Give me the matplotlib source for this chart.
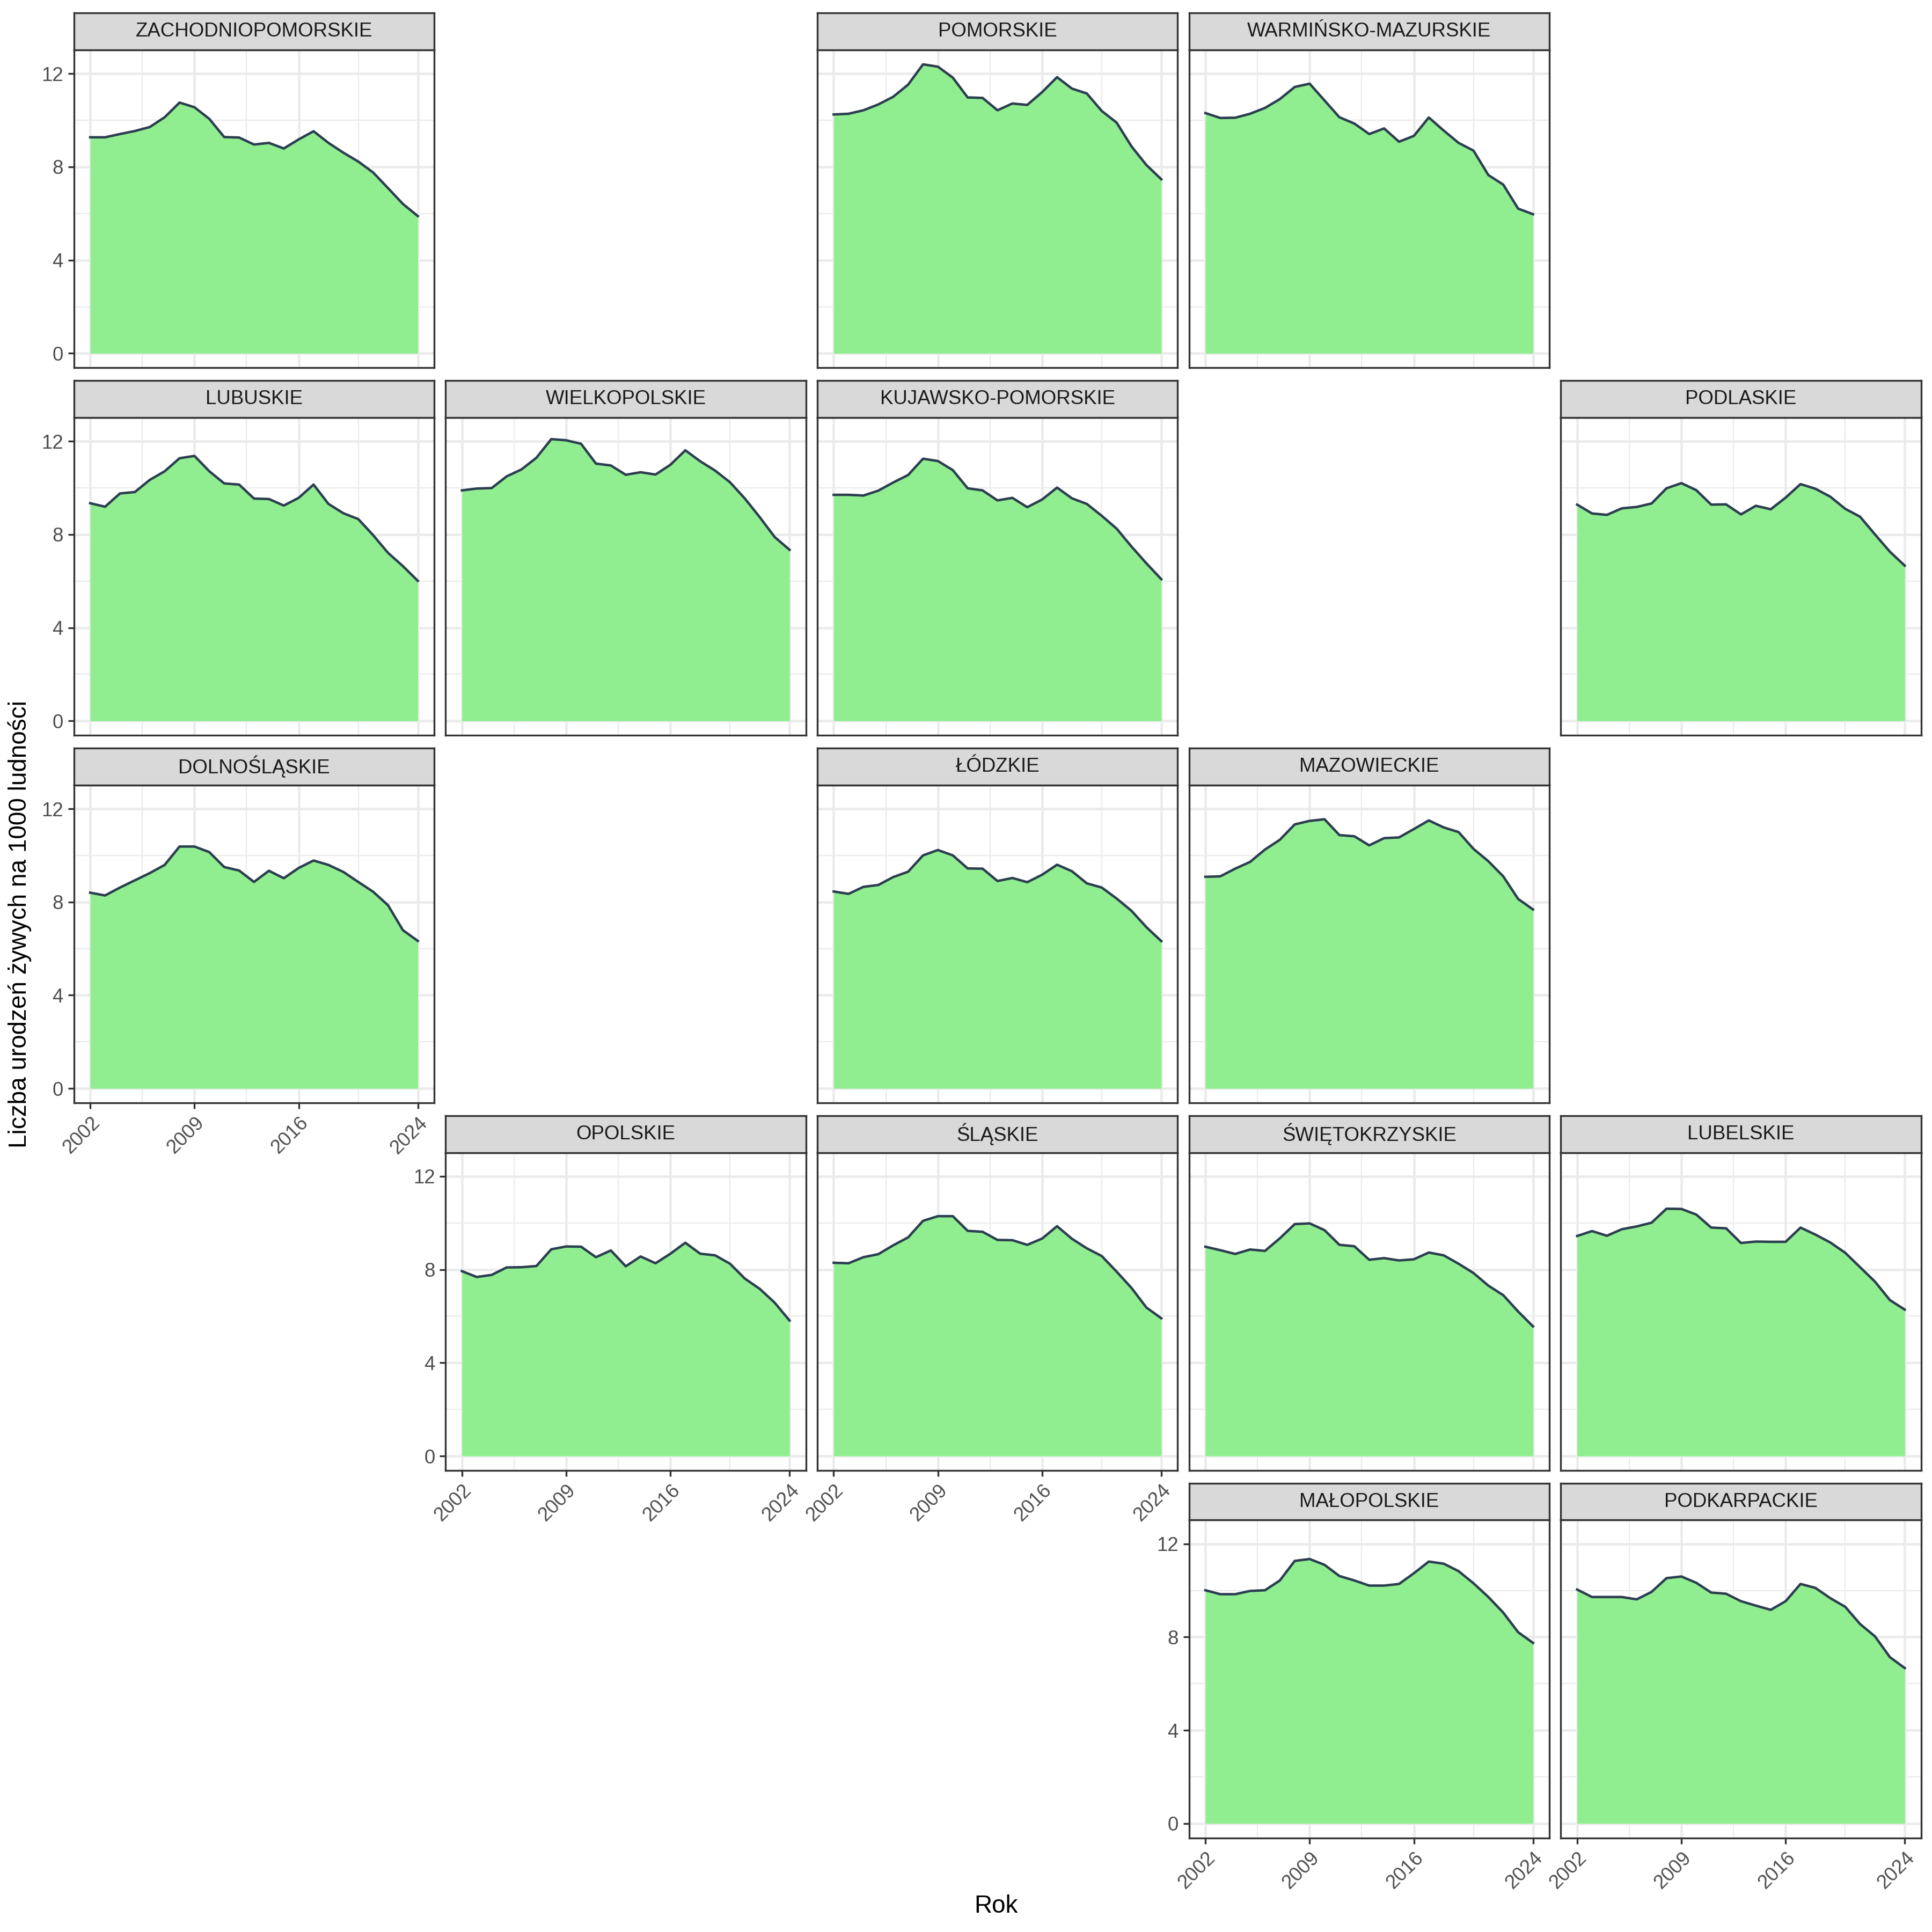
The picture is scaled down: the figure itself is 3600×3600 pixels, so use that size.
import matplotlib.pyplot as plt

plt.rcParams['font.family'] = ['Liberation Sans', 'DejaVu Sans']

# live births per 1000 population, 2002-2024
years = list(range(2002, 2025))

zachodniopomorskie = [9.27, 9.27, 9.41, 9.54, 9.71, 10.13, 10.76, 10.56, 10.06, 9.28, 9.26, 8.96,
                      9.03, 8.79, 9.18, 9.53, 9.03, 8.61, 8.23, 7.76, 7.09, 6.41, 5.89]
pomorskie = [10.25, 10.28, 10.43, 10.68, 11.01, 11.53, 12.40, 12.30, 11.83, 10.98, 10.96, 10.43,
             10.72, 10.66, 11.21, 11.85, 11.36, 11.15, 10.40, 9.90, 8.88, 8.08, 7.47]
warminsko_mazurskie = [10.31, 10.10, 10.11, 10.28, 10.53, 10.91, 11.43, 11.57, 10.85, 10.13, 9.86, 9.41,
                       9.65, 9.08, 9.33, 10.12, 9.56, 9.03, 8.70, 7.65, 7.24, 6.21, 5.97]
lubuskie = [9.34, 9.19, 9.76, 9.82, 10.34, 10.71, 11.27, 11.37, 10.71, 10.19, 10.14, 9.54,
            9.52, 9.24, 9.57, 10.14, 9.31, 8.91, 8.66, 7.97, 7.21, 6.64, 6.01]
wielkopolskie = [9.89, 9.97, 9.99, 10.49, 10.79, 11.29, 12.09, 12.04, 11.89, 11.04, 10.96, 10.56,
                 10.67, 10.57, 10.99, 11.61, 11.14, 10.74, 10.24, 9.54, 8.74, 7.89, 7.34]
kujawsko_pomorskie = [9.70, 9.70, 9.67, 9.88, 10.23, 10.55, 11.25, 11.15, 10.76, 9.98, 9.89, 9.46,
                      9.57, 9.17, 9.50, 10.01, 9.55, 9.31, 8.80, 8.25, 7.48, 6.76, 6.08]
podlaskie = [9.28, 8.90, 8.84, 9.12, 9.18, 9.33, 9.98, 10.20, 9.90, 9.28, 9.29, 8.86,
             9.23, 9.08, 9.58, 10.16, 9.96, 9.62, 9.10, 8.76, 8.00, 7.26, 6.66]
dolnoslaskie = [8.40, 8.28, 8.62, 8.93, 9.24, 9.59, 10.38, 10.38, 10.14, 9.50, 9.35, 8.86,
                9.34, 9.02, 9.46, 9.78, 9.59, 9.29, 8.86, 8.44, 7.86, 6.79, 6.33]
lodzkie = [8.45, 8.35, 8.65, 8.73, 9.07, 9.30, 10.00, 10.23, 10.00, 9.44, 9.43, 8.90,
           9.03, 8.85, 9.17, 9.60, 9.32, 8.80, 8.62, 8.15, 7.62, 6.92, 6.32]
mazowieckie = [9.08, 9.10, 9.43, 9.72, 10.25, 10.67, 11.33, 11.48, 11.55, 10.87, 10.82, 10.43,
               10.74, 10.77, 11.13, 11.50, 11.20, 11.00, 10.28, 9.75, 9.10, 8.13, 7.68]
opolskie = [7.93, 7.68, 7.77, 8.09, 8.10, 8.15, 8.87, 8.99, 8.98, 8.53, 8.82, 8.14,
            8.56, 8.27, 8.68, 9.15, 8.68, 8.61, 8.25, 7.61, 7.17, 6.58, 5.81]
slaskie = [8.29, 8.27, 8.53, 8.66, 9.04, 9.38, 10.09, 10.29, 10.29, 9.66, 9.62, 9.27,
           9.26, 9.06, 9.33, 9.86, 9.32, 8.91, 8.58, 7.91, 7.21, 6.37, 5.91]
swietokrzyskie = [8.98, 8.83, 8.67, 8.86, 8.80, 9.34, 9.95, 9.98, 9.69, 9.06, 9.00, 8.42,
                  8.49, 8.39, 8.44, 8.73, 8.61, 8.25, 7.85, 7.31, 6.90, 6.20, 5.56]
lubelskie = [9.44, 9.65, 9.45, 9.73, 9.85, 10.01, 10.61, 10.60, 10.36, 9.80, 9.77, 9.14,
             9.20, 9.19, 9.19, 9.80, 9.50, 9.16, 8.72, 8.10, 7.48, 6.69, 6.28]
malopolskie = [10.01, 9.84, 9.84, 9.98, 10.01, 10.43, 11.27, 11.35, 11.10, 10.62, 10.43, 10.21,
               10.21, 10.28, 10.74, 11.24, 11.15, 10.83, 10.31, 9.72, 9.05, 8.21, 7.75]
podkarpackie = [10.04, 9.72, 9.72, 9.72, 9.62, 9.94, 10.53, 10.60, 10.33, 9.91, 9.86, 9.54,
                9.35, 9.17, 9.54, 10.28, 10.11, 9.67, 9.30, 8.56, 8.03, 7.14, 6.67]

regions = [
    ("ZACHODNIOPOMORSKIE", zachodniopomorskie),
    ("POMORSKIE", pomorskie),
    ("WARMIŃSKO-MAZURSKIE", warminsko_mazurskie),
    ("LUBUSKIE", lubuskie),
    ("WIELKOPOLSKIE", wielkopolskie),
    ("KUJAWSKO-POMORSKIE", kujawsko_pomorskie),
    ("PODLASKIE", podlaskie),
    ("DOLNOŚLĄSKIE", dolnoslaskie),
    ("ŁÓDZKIE", lodzkie),
    ("MAZOWIECKIE", mazowieckie),
    ("OPOLSKIE", opolskie),
    ("ŚLĄSKIE", slaskie),
    ("ŚWIĘTOKRZYSKIE", swietokrzyskie),
    ("LUBELSKIE", lubelskie),
    ("MAŁOPOLSKIE", malopolskie),
    ("PODKARPACKIE", podkarpackie),
]

# (row, col) on the map-like grid
grid = {
    "ZACHODNIOPOMORSKIE": (0, 0), "POMORSKIE": (0, 2), "WARMIŃSKO-MAZURSKIE": (0, 3),
    "LUBUSKIE": (1, 0), "WIELKOPOLSKIE": (1, 1), "KUJAWSKO-POMORSKIE": (1, 2), "PODLASKIE": (1, 4),
    "DOLNOŚLĄSKIE": (2, 0), "ŁÓDZKIE": (2, 2), "MAZOWIECKIE": (2, 3),
    "OPOLSKIE": (3, 1), "ŚLĄSKIE": (3, 2), "ŚWIĘTOKRZYSKIE": (3, 3), "LUBELSKIE": (3, 4),
    "MAŁOPOLSKIE": (4, 3), "PODKARPACKIE": (4, 4),
}
x_axis_panels = {"DOLNOŚLĄSKIE", "OPOLSKIE", "ŚLĄSKIE", "MAŁOPOLSKIE", "PODKARPACKIE"}
y_axis_panels = {"ZACHODNIOPOMORSKIE", "LUBUSKIE", "DOLNOŚLĄSKIE", "OPOLSKIE", "MAŁOPOLSKIE"}

S = 1568.0
col_left0, col_pitch, col_w = 59.9, 301.7, 292.5
row_top0, row_pitch, strip_h, panel_h = 10.5, 298.3, 30.0, 258.0

dark = '#333333'
fig = plt.figure(figsize=(12, 12), dpi=300)

for name, vals in regions:
    r, c = grid[name]
    left = (col_left0 + c * col_pitch) / S
    strip_top = row_top0 + r * row_pitch
    panel_top = strip_top + strip_h
    ax = fig.add_axes([left, 1 - (panel_top + panel_h) / S, col_w / S, panel_h / S])
    ax.fill_between(years, vals, 0, color='lightgreen', lw=0, zorder=2)
    ax.plot(years, vals, color='#2C3E50', lw=1.1, zorder=3)
    ax.set_xlim(2000.9, 2025.1)
    ax.set_ylim(-0.62, 13.02)
    ax.set_xticks([2002, 2009, 2016, 2024])
    ax.set_xticks([2005.5, 2012.5, 2020], minor=True)
    ax.set_yticks([0, 4, 8, 12])
    ax.set_yticks([2, 6, 10], minor=True)
    ax.set_axisbelow(True)
    ax.grid(which='major', color='#EBEBEB', lw=1.1)
    ax.grid(which='minor', color='#EBEBEB', lw=0.55)
    for sp in ax.spines.values():
        sp.set_color(dark)
        sp.set_linewidth(0.8)
    ax.tick_params(which='minor', length=0)
    ax.tick_params(which='major', length=2.75, width=0.8, color=dark,
                   labelsize=8.8, labelcolor='#4D4D4D', pad=2)
    if name in x_axis_panels:
        plt.setp(ax.get_xticklabels(), rotation=45, ha='right', va='top', rotation_mode='anchor')
    else:
        ax.tick_params(axis='x', which='both', bottom=False, labelbottom=False)
    if name not in y_axis_panels:
        ax.tick_params(axis='y', which='both', left=False, labelleft=False)

    # facet strip
    sax = fig.add_axes([left, 1 - panel_top / S, col_w / S, strip_h / S])
    sax.set_facecolor('#D9D9D9')
    sax.set_xticks([])
    sax.set_yticks([])
    for sp in sax.spines.values():
        sp.set_color(dark)
        sp.set_linewidth(0.8)
    sax.text(0.5, 0.5, name, ha='center', va='center', fontsize=8.8, color='#1A1A1A',
             transform=sax.transAxes)

fig.text(808.5 / S, 1 - 1547 / S, "Rok", ha='center', va='center', fontsize=11)
fig.text(16 / S, 1 - 750 / S, "Liczba urodzeń żywych na 1000 ludności", ha='center', va='center',
         rotation=90, fontsize=11)

plt.savefig('out.png', dpi=300, facecolor='white')
